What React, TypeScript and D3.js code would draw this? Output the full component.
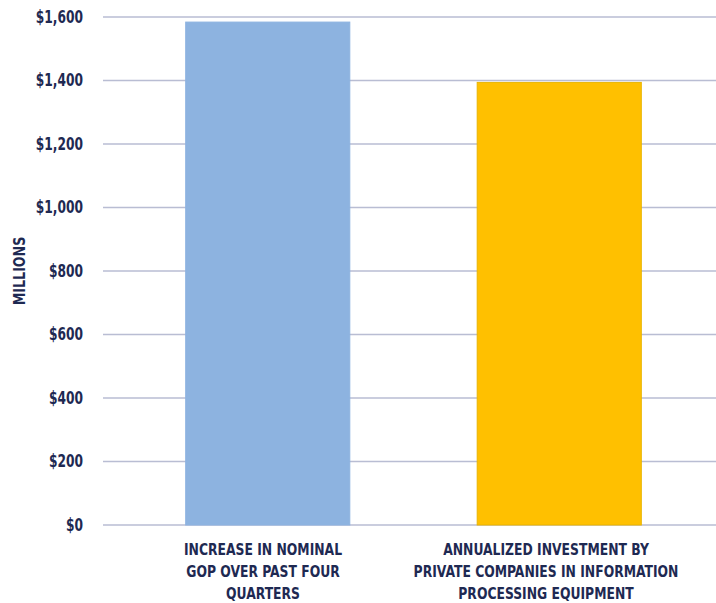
import React from "react";
import * as d3 from "d3";

const categories: string[][] = [
  ["INCREASE IN NOMINAL", "GOP OVER PAST FOUR", "QUARTERS"],
  ["ANNUALIZED INVESTMENT BY", "PRIVATE COMPANIES IN INFORMATION", "PROCESSING EQUIPMENT"],
];
const values: number[] = [1584, 1394];
const barColors: string[] = ["#8DB3E0", "#FFC000"];
const barStrokes: string[] = ["#8DB3E0", "#E9B400"];
const yTicks: number[] = [0, 200, 400, 600, 800, 1000, 1200, 1400, 1600];
const yLabel = "MILLIONS";

const W = 716;
const H = 603;
const TEXT = "#1E2952";
const GRID = "#B9BDD3";
const FONT = "'DejaVu Sans Condensed', 'DejaVu Sans', sans-serif";

export default function App() {
  const y = d3.scaleLinear().domain([0, 1600]).range([525, 17]);
  const x = d3
    .scaleBand<number>()
    .domain(values.map((_, i) => i))
    .range([122, 705])
    .paddingInner(0.437)
    .paddingOuter(0.2185);
  const xLabel = d3
    .scaleBand<number>()
    .domain(values.map((_, i) => i))
    .range([121.5, 687.5]);
  const fmt = (v: number) => "$" + d3.format(",")(v);

  return (
    <svg
      width={W}
      height={H}
      style={{ position: "absolute", left: 0, top: 0, background: "#fff" }}
      fontFamily={FONT}
    >
      {yTicks.map((t) => (
        <g key={t}>
          <line x1={103} x2={716} y1={y(t)} y2={y(t)} stroke={GRID} strokeWidth={1.3} />
          <text
            transform={`translate(83, ${y(t)}) scale(0.8, 1)`}
            textAnchor="end"
            dominantBaseline="central"
            fill={TEXT}
            fontSize={17}
            fontWeight="bold"
          >
            {fmt(t)}
          </text>
        </g>
      ))}
      {values.map((v, i) => (
        <rect
          key={i}
          x={x(i)!}
          y={y(v)}
          width={x.bandwidth()}
          height={y(0) - y(v)}
          fill={barColors[i]}
          stroke={barStrokes[i]}
          strokeWidth={1}
        />
      ))}
      {categories.map((lines, i) =>
        lines.map((ln, j) => (
          <text
            key={i + "-" + j}
            transform={`translate(${xLabel(i)! + xLabel.bandwidth() / 2}, ${555 + j * 22}) scale(0.86, 1)`}
            textAnchor="middle"
            fill={TEXT}
            fontSize={16}
            fontWeight="bold"
          >
            {ln}
          </text>
        ))
      )}
      <text
        transform={`translate(25, 271) rotate(-90) scale(0.88, 1)`}
        textAnchor="middle"
        fill={TEXT}
        fontSize={16}
        fontWeight="bold"
      >
        {yLabel}
      </text>
    </svg>
  );
}
